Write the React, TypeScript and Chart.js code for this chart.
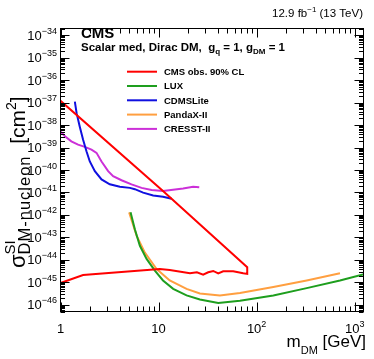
import React, { useEffect, useRef } from "react";
import { Chart, registerables } from "chart.js";

Chart.register(...registerables);

const X_MIN = 1;
const X_MAX = 1230;
const Y_MIN = 5e-47;
const Y_MAX = 2e-34;

// CMS observed 90% CL (closed contour: lower edge left->right, then upper edge right->left)
const cmsMass = [1, 1.7, 10.3, 13.0, 20.9, 24.6, 28.5, 32.1, 36.1, 40.6, 45.6, 57.7, 73, 80.2, 80.2, 11.1, 1];
const cmsXsec = [9.3e-46, 2.1e-45, 3.9e-45, 3.5e-45, 2.5e-45, 2.8e-45, 2.2e-45, 2.8e-45, 3.2e-45, 2.5e-45, 3.1e-45, 3.1e-45, 2.5e-45, 2.35e-45, 4.7e-45, 1.15e-41, 1.2e-37];

const luxMass = [5.18, 5.73, 6.45, 7.55, 9.17, 11.1, 14.1, 19.3, 26.4, 40.6, 67.6, 148, 324, 708, 1245];
const luxXsec = [1.3e-42, 2.3e-43, 4.2e-44, 1.1e-44, 3.3e-45, 1.2e-45, 5.1e-46, 2.6e-46, 1.7e-46, 1.2e-46, 1.5e-46, 2.6e-46, 5.5e-46, 1.2e-45, 2.3e-45];

const cdmsMass = [1.40, 1.46, 1.57, 1.70, 1.84, 1.99, 2.24, 2.62, 3.18, 4.03, 5.10, 5.73, 6.96, 8.81, 11.1, 13.6];
const cdmsXsec = [1.1e-37, 3.4e-38, 8.7e-39, 2.2e-39, 6.8e-40, 2.4e-40, 8.9e-41, 3.8e-41, 2.3e-41, 1.8e-41, 1.6e-41, 1.4e-41, 9.8e-42, 7.4e-42, 6.5e-42, 5.2e-42];

const pandaMass = [5.01, 5.97, 7.25, 9.55, 13.0, 19.3, 26.4, 42.2, 67.6, 148, 324, 708];
const pandaXsec = [1.3e-42, 1.2e-43, 2.1e-44, 3.9e-45, 1.2e-45, 5.1e-46, 3.2e-46, 2.6e-46, 3.3e-46, 6.1e-46, 1.2e-45, 2.5e-45];

const cresstMass = [1.0, 1.11, 1.29, 1.51, 1.77, 2.07, 2.33, 2.62, 3.06, 3.44, 4.19, 5.30, 6.71, 8.49, 11.1, 17.8, 22.5, 26.0];
const cresstXsec = [5.2e-39, 3.2e-39, 1.9e-39, 1.35e-39, 1.07e-39, 8.1e-40, 5.8e-40, 2.4e-40, 8.9e-41, 5.3e-41, 3.5e-41, 2.3e-41, 1.6e-41, 1.3e-41, 1.15e-41, 1.5e-41, 1.8e-41, 1.7e-41];

const seriesLabels = ["CMS obs. 90% CL", "LUX", "CDMSLite", "PandaX-II", "CRESST-II"];
const seriesColors = ["#ff0000", "#1e9e1e", "#1010e0", "#ff9f40", "#cc30d8"];

const xTickValues = [1, 10, 100, 1000];
const xTickBases = ["1", "10", "10", "10"];
const xTickExps = ["", "", "2", "3"];
const yTickExps = [-46, -45, -44, -43, -42, -41, -40, -39, -38, -37, -36, -35, -34];

const FONT = '"Liberation Sans", Arial, Helvetica, sans-serif';

type Seg = { t: string; size: number; bold?: boolean; dy?: number; noAdvance?: boolean; ls?: number };

function fontOf(size: number, bold?: boolean) {
  return `${bold ? "bold " : ""}${size}px ${FONT}`;
}

function segW(ctx: CanvasRenderingContext2D, s: Seg) {
  ctx.font = fontOf(s.size, s.bold);
  (ctx as any).letterSpacing = `${s.ls || 0}px`;
  const w = ctx.measureText(s.t).width;
  return w;
}

function richWidth(ctx: CanvasRenderingContext2D, segs: Seg[]) {
  let w = 0;
  for (const s of segs) if (!s.noAdvance) w += segW(ctx, s);
  return w;
}

function drawRich(ctx: CanvasRenderingContext2D, segs: Seg[], x: number, y: number, align: "left" | "right" | "center") {
  const w = richWidth(ctx, segs);
  let cx = align === "right" ? x - w : align === "center" ? x - w / 2 : x;
  ctx.textAlign = "left";
  ctx.textBaseline = "alphabetic";
  for (const s of segs) {
    const sw = segW(ctx, s);
    ctx.fillText(s.t, cx, y + (s.dy || 0));
    if (!s.noAdvance) cx += sw;
  }
  (ctx as any).letterSpacing = "0px";
}

const rootPlugin = {
  id: "rootStyle",
  afterDraw(chart: any) {
    const ctx: CanvasRenderingContext2D = chart.ctx;
    const xs = chart.scales.x;
    const ys = chart.scales.y;
    const { left, right, top, bottom } = chart.chartArea;
    ctx.save();
    ctx.strokeStyle = "#000";
    ctx.fillStyle = "#000";
    ctx.lineWidth = 1;
    ctx.strokeRect(left, top, right - left, bottom - top);

    ctx.beginPath();
    for (let d = 0; d <= 3; d++) {
      for (let m = 1; m <= 9; m++) {
        const v = m * Math.pow(10, d);
        if (v < X_MIN || v > X_MAX) continue;
        const px = Math.round(xs.getPixelForValue(v)) + 0.5;
        const len = m === 1 ? 9 : 5;
        ctx.moveTo(px, bottom);
        ctx.lineTo(px, bottom - len);
        ctx.moveTo(px, top);
        ctx.lineTo(px, top + len);
      }
    }
    for (let e = -47; e <= -34; e++) {
      for (let m = 1; m <= 9; m++) {
        const v = m * Math.pow(10, e);
        if (v < Y_MIN * 0.999 || v > Y_MAX * 1.001) continue;
        const py = Math.round(ys.getPixelForValue(v)) + 0.5;
        const len = m === 1 ? 9 : 4.5;
        ctx.moveTo(left, py);
        ctx.lineTo(left + len, py);
        ctx.moveTo(right, py);
        ctx.lineTo(right - len, py);
      }
    }
    ctx.stroke();

    // x tick labels
    xTickValues.forEach((v, i) => {
      const px = xs.getPixelForValue(v);
      const segs: Seg[] = [{ t: xTickBases[i], size: 13 }];
      if (xTickExps[i]) segs.push({ t: xTickExps[i], size: 9, dy: -6 });
      drawRich(ctx, segs, px, 333, "center");
    });

    // y tick labels
    yTickExps.forEach((e) => {
      const py = ys.getPixelForValue(Math.pow(10, e));
      const segs: Seg[] = [
        { t: "10", size: 13 },
        { t: "\u2212" + String(-e), size: 9, dy: -6 },
      ];
      drawRich(ctx, segs, 57, py + 4.5, "right");
    });

    // axis titles
    drawRich(
      ctx,
      [
        { t: "m", size: 17 },
        { t: "DM", size: 11, dy: 7 },
        { t: " [GeV]", size: 17 },
      ],
      366,
      347,
      "right"
    );

    ctx.save();
    ctx.translate(25, 268);
    ctx.rotate(-Math.PI / 2);
    drawRich(
      ctx,
      [
        { t: "\u03c3", size: 22 },
        { t: "SI", size: 15, dy: -10, noAdvance: true },
        { t: "DM-nucleon", size: 16.5, dy: 5, ls: 1 },
        { t: "  [cm", size: 21 },
        { t: "2", size: 14, dy: -9 },
        { t: "]", size: 21 },
      ],
      0,
      0,
      "left"
    );
    ctx.restore();

    // header texts
    drawRich(
      ctx,
      [
        { t: "12.9 fb", size: 11.5 },
        { t: "\u22121", size: 8, dy: -5 },
        { t: " (13 TeV)", size: 11.5 },
      ],
      363,
      17,
      "right"
    );
    drawRich(ctx, [{ t: "CMS", size: 15, bold: true }], 81, 38, "left");
    drawRich(
      ctx,
      [
        { t: "Scalar med, Dirac DM,  g", size: 11.5, bold: true },
        { t: "q", size: 8, bold: true, dy: 3 },
        { t: " = 1, g", size: 11.5, bold: true },
        { t: "DM", size: 8, bold: true, dy: 3 },
        { t: " = 1", size: 11.5, bold: true },
      ],
      81,
      50.5,
      "left"
    );

    // legend
    seriesLabels.forEach((lab, i) => {
      const cy = 71.7 + i * 14.3;
      ctx.strokeStyle = seriesColors[i];
      ctx.lineWidth = 2;
      ctx.beginPath();
      ctx.moveTo(127, cy);
      ctx.lineTo(157, cy);
      ctx.stroke();
      ctx.fillStyle = "#000";
      drawRich(ctx, [{ t: lab, size: 9.5, bold: true }], 164, cy + 3.4, "left");
    });
    ctx.restore();
  },
};

function pts(xsArr: number[], ysArr: number[]) {
  return xsArr.map((x, i) => ({ x, y: ysArr[i] }));
}

export default function App() {
  const ref = useRef<HTMLCanvasElement | null>(null);
  useEffect(() => {
    if (!ref.current) return;
    const mk = (i: number, data: { x: number; y: number }[]) => ({
      label: seriesLabels[i],
      data,
      borderColor: seriesColors[i],
      backgroundColor: seriesColors[i],
      borderWidth: 2,
      pointRadius: 0,
      tension: 0,
      fill: false,
    });
    const chart = new Chart(ref.current, {
      type: "line",
      data: {
        datasets: [
          mk(0, pts(cmsMass, cmsXsec)),
          mk(1, pts(luxMass, luxXsec)),
          mk(2, pts(cdmsMass, cdmsXsec)),
          mk(3, pts(pandaMass, pandaXsec)),
          mk(4, pts(cresstMass, cresstXsec)),
        ],
      },
      options: {
        animation: false,
        responsive: false,
        devicePixelRatio: 1,
        layout: { padding: { left: 60.5, right: 10.5, top: 28.5, bottom: 47.5 } },
        plugins: { legend: { display: false }, tooltip: { enabled: false } },
        scales: {
          x: { type: "logarithmic", min: X_MIN, max: X_MAX, display: false },
          y: { type: "logarithmic", min: Y_MIN, max: Y_MAX, display: false },
        },
      },
      plugins: [rootPlugin],
    } as any);
    return () => chart.destroy();
  }, []);
  return (
    <div style={{ position: "absolute", left: 0, top: 0, width: 374, height: 359, background: "#fff" }}>
      <canvas ref={ref} width={374} height={359} style={{ width: 374, height: 359, display: "block" }} />
    </div>
  );
}
